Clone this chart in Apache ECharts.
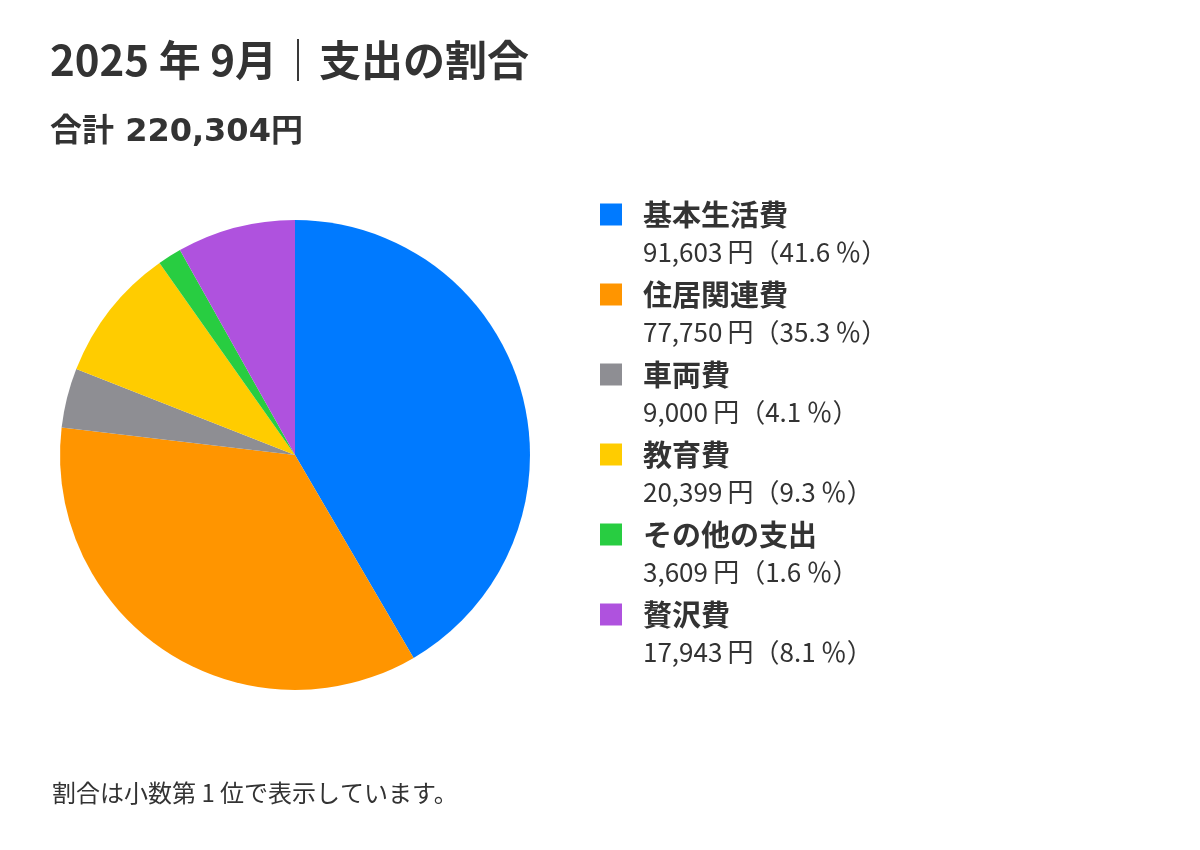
<!DOCTYPE html>
<html>
<head>
<meta charset="utf-8">
<script src="https://cdn.jsdelivr.net/npm/echarts@6/dist/echarts.min.js"></script>
<style>
  html, body { margin: 0; padding: 0; background: #fff; }
  #chart { width: 1200px; height: 850px; }
</style>
</head>
<body>
<div id="chart"></div>
<script>
// データ
const categories = ['基本生活費', '住居関連費', '車両費', '教育費', 'その他の支出', '贅沢費']
const amounts = [91603, 77750, 9000, 20399, 3609, 17943]
const percents = [41.6, 35.3, 4.1, 9.3, 1.6, 8.1]
const colors = ['#007AFF', '#FF9500', '#8E8E93', '#FFCC00', '#28CD41', '#AF52DE']
const totalLabel = '合計 220,304円'

const FONT = '"Noto Sans CJK JP", "Noto Sans", sans-serif'
const WIDE = '"DejaVu Sans", "Noto Sans CJK JP", sans-serif'
const TEXT = '#333333'

const fmt = n => n.toLocaleString('en-US')

const chart = echarts.init(document.getElementById('chart'))

const pieData = categories.map((name, i) => ({
  name: name,
  value: amounts[i],
  itemStyle: { color: colors[i] }
}))

// 2段目（金額と割合）用
const valueText = {}
categories.forEach((name, i) => {
  valueText[name] = fmt(amounts[i]) + '\u2009円（' + percents[i].toFixed(1) + '\u2009％）'
})

const option = {
  backgroundColor: '#ffffff',
  animation: false,
  title: [
    {
      text: '2025 年 9月｜支出の割合',
      left: 50,
      top: 39,
      padding: 0,
      textStyle: { fontFamily: FONT, fontSize: 42, fontWeight: 'bold', color: TEXT, lineHeight: 42 }
    },
    {
      text: totalLabel,
      left: 50,
      top: 117,
      padding: 0,
      textStyle: { fontFamily: WIDE, fontSize: 32, fontWeight: 'bold', color: TEXT, lineHeight: 32 }
    },
    {
      text: '割合は小数第 1 位で表示しています。',
      left: 52,
      top: 781,
      padding: 0,
      textStyle: { fontFamily: FONT, fontSize: 24, fontWeight: 'normal', color: TEXT, lineHeight: 24 }
    }
  ],
  legend: [
    {
      orient: 'vertical',
      left: 600,
      top: 200,
      padding: 0,
      itemWidth: 22,
      itemHeight: 22,
      itemGap: 51,
      icon: 'rect',
      data: categories,
      selectedMode: false,
      textStyle: {
        fontFamily: FONT, fontSize: 29, fontWeight: 'bold', color: TEXT,
        padding: [0, 0, 0, 16]
      }
    },
    {
      orient: 'vertical',
      left: 600,
      top: 239,
      padding: 0,
      itemWidth: 22,
      itemHeight: 22,
      itemGap: 54,
      icon: 'none',
      data: categories,
      selectedMode: false,
      formatter: name => valueText[name],
      textStyle: {
        fontFamily: FONT, fontSize: 26, fontWeight: 'normal', color: TEXT,
        padding: [0, 0, 0, 16]
      }
    }
  ],
  series: [
    {
      name: '支出',
      type: 'pie',
      center: [295, 455],
      radius: [0, 235],
      startAngle: 90,
      clockwise: true,
      avoidLabelOverlap: false,
      label: { show: false },
      labelLine: { show: false },
      emphasis: { disabled: true },
      itemStyle: { borderWidth: 0 },
      data: pieData
    }
  ]
}

chart.setOption(option)
</script>
</body>
</html>
